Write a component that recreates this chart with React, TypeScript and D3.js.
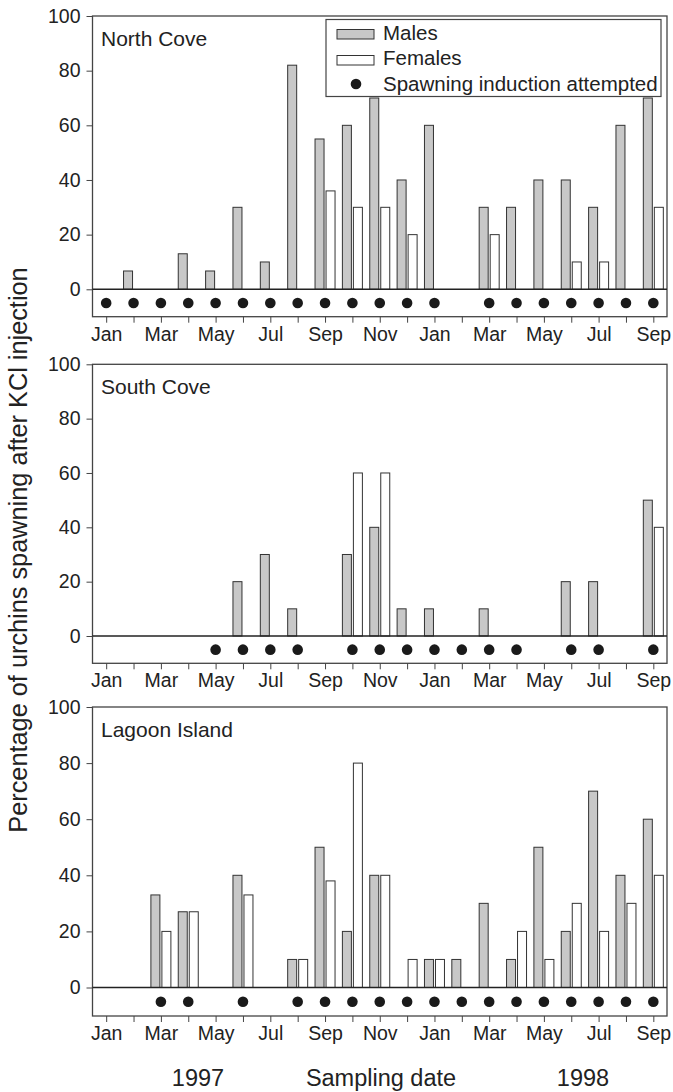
import React, { useEffect, useRef } from 'react'
import * as d3 from 'd3'

// months Jan 1997 .. Sep 1998
const monthLabels = ['Jan', 'Feb', 'Mar', 'Apr', 'May', 'Jun', 'Jul', 'Aug', 'Sep', 'Oct', 'Nov', 'Dec',
  'Jan', 'Feb', 'Mar', 'Apr', 'May', 'Jun', 'Jul', 'Aug', 'Sep']
const yTicks = [0, 20, 40, 60, 80, 100]

const northMales = [0, 6.7, 0, 13, 6.7, 30, 10, 82, 55, 60, 70, 40, 60, 0, 30, 30, 40, 40, 30, 60, 70]
const northFemales = [0, 0, 0, 0, 0, 0, 0, 0, 36, 30, 30, 20, 0, 0, 20, 0, 0, 10, 10, 0, 30]
const northSampled = [1, 1, 1, 1, 1, 1, 1, 1, 1, 1, 1, 1, 1, 0, 1, 1, 1, 1, 1, 1, 1]

const southMales = [0, 0, 0, 0, 0, 20, 30, 10, 0, 30, 40, 10, 10, 0, 10, 0, 0, 20, 20, 0, 50]
const southFemales = [0, 0, 0, 0, 0, 0, 0, 0, 0, 60, 60, 0, 0, 0, 0, 0, 0, 0, 0, 0, 40]
const southSampled = [0, 0, 0, 0, 1, 1, 1, 1, 0, 1, 1, 1, 1, 1, 1, 1, 0, 1, 1, 0, 1]

const lagoonMales = [0, 0, 33, 27, 0, 40, 0, 10, 50, 20, 40, 0, 10, 10, 30, 10, 50, 20, 70, 40, 60]
const lagoonFemales = [0, 0, 20, 27, 0, 33, 0, 10, 38, 80, 40, 10, 10, 0, 0, 20, 10, 30, 20, 30, 40]
const lagoonSampled = [0, 0, 1, 1, 0, 1, 0, 1, 1, 1, 1, 1, 1, 1, 1, 1, 1, 1, 1, 1, 1]

const sites = ['North Cove', 'South Cove', 'Lagoon Island']
const legendLabels = ['Males', 'Females', 'Spawning induction attempted']

const FONT = '"Liberation Sans", Arial, Helvetica, sans-serif'
const INK = '#222'

const App = () => {
  const ref = useRef(null)

  useEffect(() => {
    const svg = d3.select(ref.current)
    svg.selectAll('*').remove()

    svg.attr('width', 673).attr('height', 1092)

    const x = d3.scaleLinear().domain([-0.5, 20.5]).range([92.5, 667])

    const series = [
      { males: northMales, females: northFemales, sampled: northSampled },
      { males: southMales, females: southFemales, sampled: southSampled },
      { males: lagoonMales, females: lagoonFemales, sampled: lagoonSampled },
    ]
    // top (100), zero line, bottom of box for each panel
    const layout = [
      { top: 16, zero: 289.3, bottom: 316.7 },
      { top: 364.3, zero: 636, bottom: 663.3 },
      { top: 707, zero: 987.5, bottom: 1016 },
    ]

    series.forEach((s, p) => {
      const L = layout[p]
      const y = d3.scaleLinear().domain([0, 100]).range([L.zero, L.top])
      const g = svg.append('g')

      // bars
      g.selectAll('.male')
        .data(s.males.map((v, i) => ({ v, i })).filter((d) => d.v > 0))
        .enter()
        .append('rect')
        .attr('x', (d) => x(d.i) - 10)
        .attr('width', 9)
        .attr('y', (d) => y(d.v))
        .attr('height', (d) => L.zero - y(d.v))
        .attr('fill', '#c8c8c8')
        .attr('stroke', '#333')
        .attr('stroke-width', 1)

      g.selectAll('.female')
        .data(s.females.map((v, i) => ({ v, i })).filter((d) => d.v > 0))
        .enter()
        .append('rect')
        .attr('x', (d) => x(d.i) + 1)
        .attr('width', 9)
        .attr('y', (d) => y(d.v))
        .attr('height', (d) => L.zero - y(d.v))
        .attr('fill', '#fff')
        .attr('stroke', '#333')
        .attr('stroke-width', 1)

      // sampling dots
      g.selectAll('.dot')
        .data(s.sampled.map((v, i) => ({ v, i })).filter((d) => d.v))
        .enter()
        .append('circle')
        .attr('cx', (d) => x(d.i))
        .attr('cy', (L.zero + L.bottom) / 2)
        .attr('r', 5.3)
        .attr('fill', '#1a1a1a')

      // frame + zero line
      g.append('rect')
        .attr('x', x(-0.5))
        .attr('y', L.top)
        .attr('width', x(20.5) - x(-0.5))
        .attr('height', L.bottom - L.top)
        .attr('fill', 'none')
        .attr('stroke', '#444')
        .attr('stroke-width', 1.3)
      g.append('line')
        .attr('x1', x(-0.5))
        .attr('x2', x(20.5))
        .attr('y1', L.zero)
        .attr('y2', L.zero)
        .attr('stroke', '#222')
        .attr('stroke-width', 1.5)

      // y axis
      const yAxis = g.append('g')
        .attr('transform', `translate(${x(-0.5)},0)`)
        .call(d3.axisLeft(y).tickValues(yTicks).tickSize(6).tickPadding(6))
      yAxis.select('.domain').remove()
      yAxis.selectAll('line').attr('stroke', '#444')
      yAxis.selectAll('text')
        .attr('fill', INK)
        .style('font-family', FONT)
        .style('font-size', '19.5px')

      // month axis
      const xAxis = g.append('g')
        .attr('transform', `translate(0,${L.bottom})`)
        .call(
          d3.axisBottom(x)
            .tickValues(d3.range(21))
            .tickSize(6)
            .tickPadding(4)
            .tickFormat((d) => (d % 2 === 0 ? monthLabels[d] : ''))
        )
      xAxis.select('.domain').remove()
      xAxis.selectAll('line').attr('stroke', '#444')
      xAxis.selectAll('text')
        .attr('fill', INK)
        .style('font-family', FONT)
        .style('font-size', '19.5px')

      // site label
      g.append('text')
        .attr('x', 101)
        .attr('y', L.top + 30)
        .attr('fill', INK)
        .style('font-family', FONT)
        .style('font-size', '21px')
        .text(sites[p])
    })

    // legend (North Cove panel)
    const lg = svg.append('g')
    lg.append('rect')
      .attr('x', 326).attr('y', 19.5)
      .attr('width', 335).attr('height', 77)
      .attr('fill', '#fff')
      .attr('stroke', '#444')
      .attr('stroke-width', 1.2)
    lg.append('rect')
      .attr('x', 337).attr('y', 29.5)
      .attr('width', 37).attr('height', 9.5)
      .attr('fill', '#c8c8c8').attr('stroke', '#333')
    lg.append('rect')
      .attr('x', 337).attr('y', 55.5)
      .attr('width', 37).attr('height', 9.5)
      .attr('fill', '#fff').attr('stroke', '#333')
    lg.append('circle')
      .attr('cx', 356).attr('cy', 84).attr('r', 5.3)
      .attr('fill', '#1a1a1a')
    lg.selectAll('.lt')
      .data(legendLabels)
      .enter()
      .append('text')
      .attr('x', 383)
      .attr('y', (d, i) => 39.5 + i * 25.5)
      .attr('fill', INK)
      .style('font-family', FONT)
      .style('font-size', '20.5px')
      .text((d) => d)

    // axis titles
    svg.append('text')
      .attr('transform', 'translate(27,550) rotate(-90)')
      .attr('text-anchor', 'middle')
      .attr('fill', INK)
      .style('font-family', FONT)
      .style('font-size', '25.3px')
      .text('Percentage of urchins spawning after KCl injection')

    const bottomY = 1086
    const footer = [
      { t: '1997', cx: 198 },
      { t: 'Sampling date', cx: 381 },
      { t: '1998', cx: 583 },
    ]
    svg.selectAll('.foot')
      .data(footer)
      .enter()
      .append('text')
      .attr('x', (d) => d.cx)
      .attr('y', bottomY)
      .attr('text-anchor', 'middle')
      .attr('fill', INK)
      .style('font-family', FONT)
      .style('font-size', '23.5px')
      .text((d) => d.t)
  }, [])

  return <svg ref={ref} style={{ position: 'absolute', left: 0, top: 0, background: '#fff' }} />
}

export default App
